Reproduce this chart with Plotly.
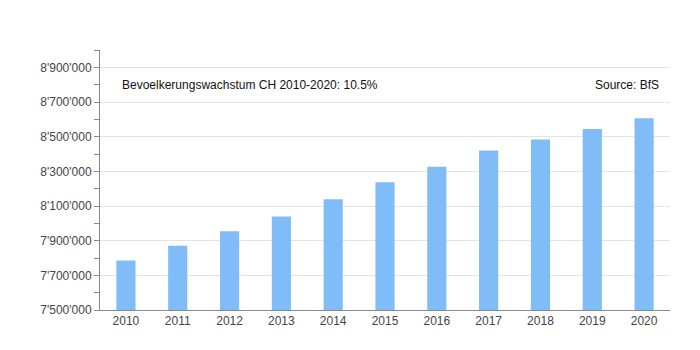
import plotly.graph_objects as go

# Swiss resident population (BfS)
years = ["2010", "2011", "2012", "2013", "2014", "2015", "2016", "2017", "2018", "2019", "2020"]
population = [7785806, 7870134, 7954662, 8039060, 8139631, 8237666, 8327126, 8419550, 8484130, 8544527, 8606033]

growth_label = "Bevoelkerungswachstum CH 2010-2020: 10.5%"
source_label = "Source: BfS"

fig = go.Figure(
    go.Bar(
        x=years,
        y=population,
        marker=dict(color="#80bdf8", line=dict(width=0)),
        hoverinfo="x+y",
    )
)

axis_font = dict(family="Liberation Sans, Arial, sans-serif", size=12, color="#444")

fig.update_layout(
    width=700,
    height=350,
    margin=dict(l=100, r=30, t=50, b=40),
    paper_bgcolor="white",
    plot_bgcolor="white",
    separators=".'",
    bargap=0.63,
    showlegend=False,
    font=axis_font,
    xaxis=dict(
        type="category",
        showline=True,
        linecolor="#888",
        linewidth=1,
        showgrid=False,
        ticks="",
        tickfont=axis_font,
    ),
    yaxis=dict(
        range=[7500000, 9000000],
        tick0=7500000,
        dtick=200000,
        tickformat=",d",
        showline=True,
        linecolor="#888",
        linewidth=1,
        ticks="outside",
        ticklen=5,
        tickcolor="#888",
        showgrid=True,
        gridcolor="#e3e3e3",
        zeroline=False,
        tickfont=axis_font,
        minor=dict(dtick=100000, tick0=7500000, ticks="outside", ticklen=5,
                   tickcolor="#888", showgrid=False),
    ),
    annotations=[
        dict(text=growth_label, xref="paper", yref="paper", x=0.035, y=0.865,
             xanchor="left", yanchor="middle", showarrow=False,
             font=dict(family="Liberation Sans, Arial, sans-serif", size=12, color="#111")),
        dict(text=source_label, xref="paper", yref="paper", x=0.985, y=0.865,
             xanchor="right", yanchor="middle", showarrow=False,
             font=dict(family="Liberation Sans, Arial, sans-serif", size=12, color="#111")),
    ],
)

fig.write_html("out.html")
